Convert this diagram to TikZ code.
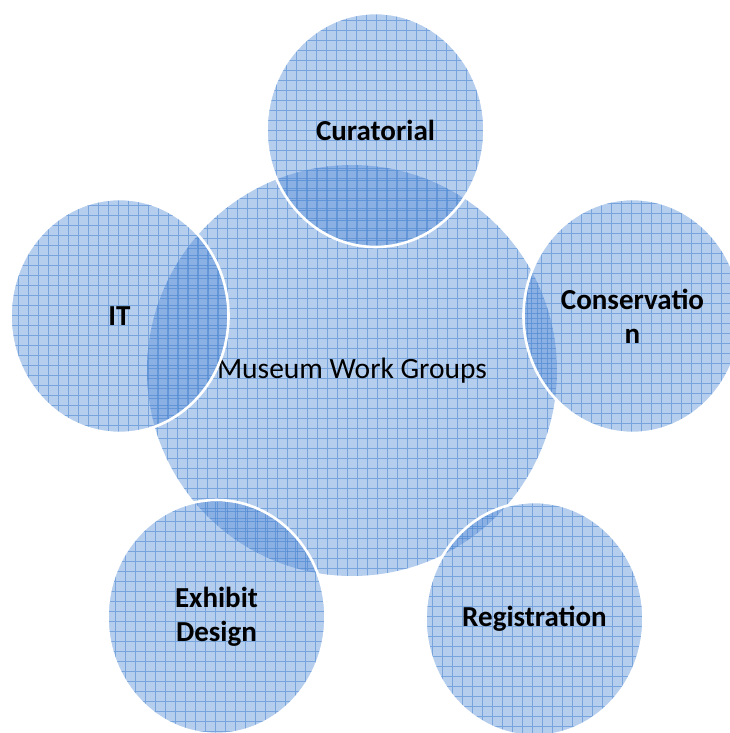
\documentclass[tikz,border=0pt]{standalone}
\usepackage{fontspec}
\setmainfont{Carlito}
\usetikzlibrary{shapes.geometric}
\definecolor{circblue}{RGB}{72,132,212}
\definecolor{gridblue}{RGB}{60,125,205}
\tikzset{
  gridded/.style={
    shape=ellipse, inner sep=0pt, fill=circblue, fill opacity=0.4,
    text opacity=1, align=center,
    path picture={
      \draw[gridblue, draw opacity=0.5, line width=0.7pt, xstep=10pt, ystep=10pt]
        (path picture bounding box.south west) grid
        (path picture bounding box.north east);
    }
  },
  hub/.style={gridded, minimum width=410, minimum height=411,
    font=\fontsize{29.5}{35}\selectfont},
  spoke/.style={gridded, minimum width=218, minimum height=234,
    draw=white, draw opacity=1, line width=2.6pt,
    font=\fontsize{29}{34}\selectfont\bfseries}
}
\begin{document}
\begin{tikzpicture}[x=1pt,y=-1pt]
\useasboundingbox (0,0) rectangle (730,733);
\node[hub] (hubc) at (352,370.5) {Museum Work Groups};
\node[spoke] (cur) at (375.5,130) {Curatorial};
\node[spoke] (con) at (632.5,316) {Conservatio\\n};
\node[spoke] (reg) at (534.5,619) {Registration};
\node[spoke] (exh) at (216.5,617) {Exhibit\\Design};
\node[spoke] (it) at (119.5,316) {IT};
\end{tikzpicture}
\end{document}
